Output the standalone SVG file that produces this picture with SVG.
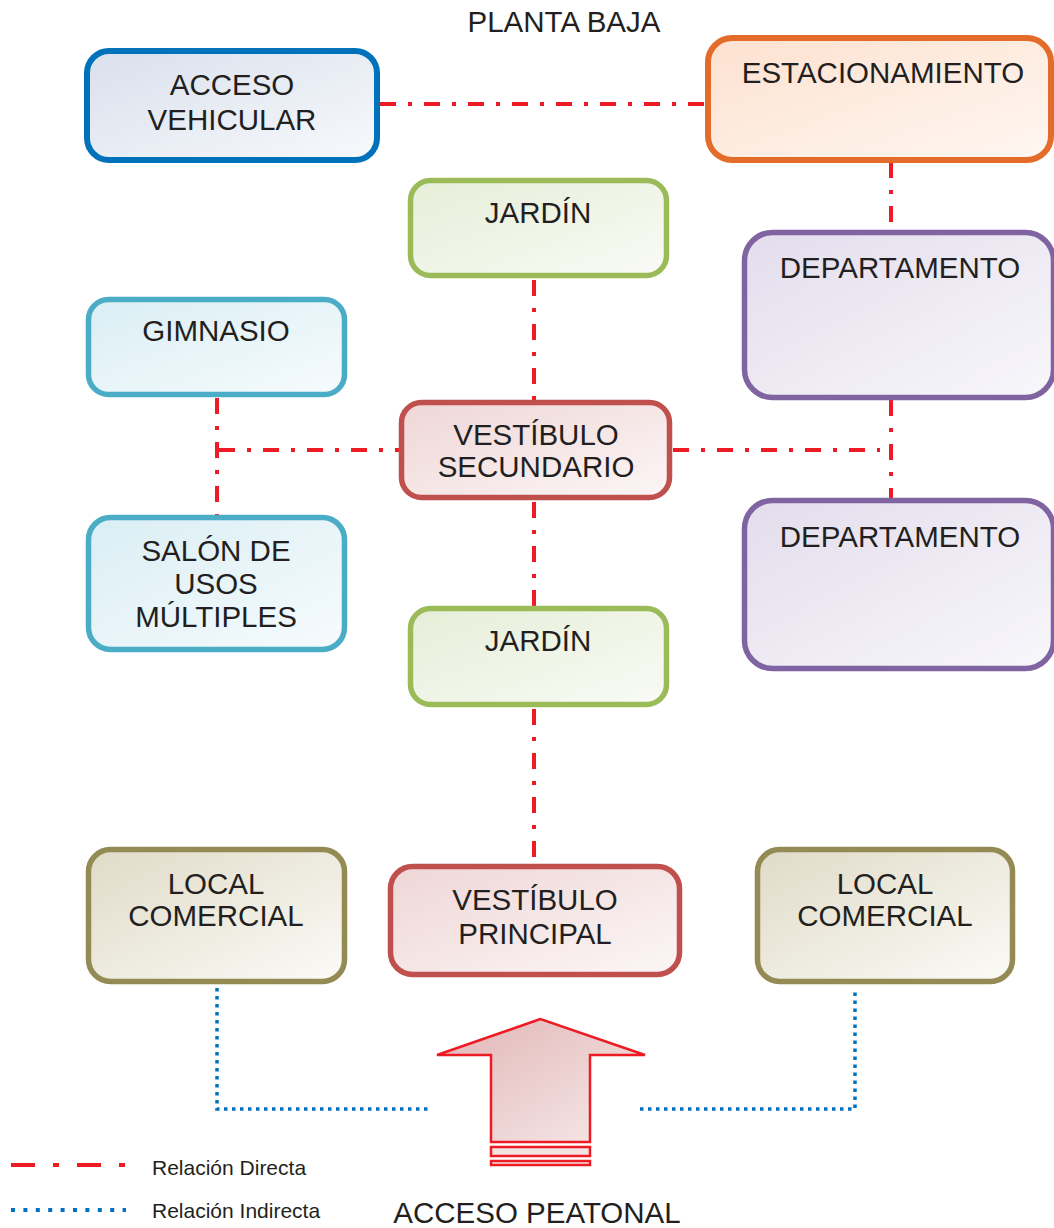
<svg xmlns="http://www.w3.org/2000/svg" width="1054" height="1228" viewBox="0 0 1054 1228">
<style>
.n{stroke-width:5.5}
.t{font-family:"Liberation Sans",Arial,sans-serif;font-size:29.5px;fill:#231F20;text-anchor:middle}
.d{stroke:#ED1C24;stroke-width:4;fill:none;stroke-dasharray:16 12 4 12}
.i{stroke:#0070C0;stroke-width:3.5;fill:none;stroke-dasharray:3.5 4.5}
.lg{font-family:"Liberation Sans",Arial,sans-serif;font-size:21px;fill:#231F20}
</style>
<defs>
<linearGradient id="gb" x1="0" y1="0" x2="1" y2="1"><stop offset="0" stop-color="#d9e0ec"/><stop offset="1" stop-color="#f7f9fc"/></linearGradient>
<linearGradient id="go" x1="0" y1="0" x2="1" y2="1"><stop offset="0" stop-color="#fde1cf"/><stop offset="1" stop-color="#fff7f2"/></linearGradient>
<linearGradient id="gg" x1="0" y1="0" x2="1" y2="1"><stop offset="0" stop-color="#e6eed8"/><stop offset="1" stop-color="#f9fbf5"/></linearGradient>
<linearGradient id="gp" x1="0" y1="0" x2="1" y2="1"><stop offset="0" stop-color="#e3ddec"/><stop offset="1" stop-color="#f8f7fb"/></linearGradient>
<linearGradient id="gt" x1="0" y1="0" x2="1" y2="1"><stop offset="0" stop-color="#daeef4"/><stop offset="1" stop-color="#f6fbfd"/></linearGradient>
<linearGradient id="gr" x1="0" y1="0" x2="1" y2="1"><stop offset="0" stop-color="#efd6d6"/><stop offset="1" stop-color="#fcf6f6"/></linearGradient>
<linearGradient id="gl" x1="0" y1="0" x2="1" y2="1"><stop offset="0" stop-color="#e0dbc8"/><stop offset="1" stop-color="#fbfaf6"/></linearGradient>
<linearGradient id="ga" x1="0" y1="0" x2="1" y2="1"><stop offset="0" stop-color="#e2b5b5"/><stop offset="1" stop-color="#f6eaea"/></linearGradient>
</defs>

<text class="t" x="564" y="32" style="font-size:29.5px">PLANTA BAJA</text>

<g id="connectors">
<line class="d" x1="380" y1="104" x2="706" y2="104"/>
<line class="d" x1="891" y1="162" x2="891" y2="230"/>
<line class="d" x1="534" y1="280" x2="534" y2="400"/>
<line class="d" x1="217" y1="398" x2="217" y2="515"/>
<line class="d" x1="219" y1="450" x2="399" y2="450"/>
<line class="d" x1="673" y1="450" x2="880" y2="450"/>
<line class="d" x1="891" y1="400" x2="891" y2="498"/>
<line class="d" x1="534" y1="502" x2="534" y2="606"/>
<line class="d" x1="534" y1="709" x2="534" y2="864"/>
<polyline class="i" points="217,988 217,1109 430,1109"/>
<polyline class="i" points="640,1109 855,1109 855,988"/>
</g>

<g id="acceso-vehicular"><rect class="n" x="87" y="51" width="290" height="109" rx="22" fill="url(#gb)" stroke="#0072BC" style="stroke-width:6"/>
<text class="t" x="232" y="95">ACCESO</text><text class="t" x="232" y="130">VEHICULAR</text></g>

<g id="estacionamiento"><rect class="n" x="708" y="38" width="343" height="122" rx="24" fill="url(#go)" stroke="#E46C2A" style="stroke-width:6"/>
<text class="t" x="883" y="83">ESTACIONAMIENTO</text></g>

<g id="jardin1"><rect class="n" x="410.5" y="180.5" width="256" height="95" rx="20" fill="url(#gg)" stroke="#9BBB59"/>
<text class="t" x="538" y="223">JARDÍN</text></g>

<g id="departamento1"><rect class="n" x="744.5" y="232.5" width="309" height="165" rx="28" fill="url(#gp)" stroke="#8064A2"/>
<text class="t" x="900" y="278">DEPARTAMENTO</text></g>

<g id="gimnasio"><rect class="n" x="88.5" y="299.5" width="256" height="95" rx="20" fill="url(#gt)" stroke="#4BACC6"/>
<text class="t" x="216" y="341">GIMNASIO</text></g>

<g id="vestibulo-secundario"><rect class="n" x="401.5" y="402.5" width="268" height="95" rx="20" fill="url(#gr)" stroke="#C0504D"/>
<text class="t" x="536" y="445">VESTÍBULO</text><text class="t" x="536" y="477">SECUNDARIO</text></g>

<g id="departamento2"><rect class="n" x="744.5" y="500.5" width="309" height="168" rx="28" fill="url(#gp)" stroke="#8064A2"/>
<text class="t" x="900" y="547">DEPARTAMENTO</text></g>

<g id="salon"><rect class="n" x="88.5" y="517.5" width="256" height="132" rx="22" fill="url(#gt)" stroke="#4BACC6"/>
<text class="t" x="216" y="561">SALÓN DE</text><text class="t" x="216" y="594">USOS</text><text class="t" x="216" y="627">MÚLTIPLES</text></g>

<g id="jardin2"><rect class="n" x="410.5" y="608.5" width="256" height="96" rx="20" fill="url(#gg)" stroke="#9BBB59"/>
<text class="t" x="538" y="651">JARDÍN</text></g>

<g id="local1"><rect class="n" x="88.5" y="849.5" width="256" height="132" rx="22" fill="url(#gl)" stroke="#948A54"/>
<text class="t" x="216" y="894">LOCAL</text><text class="t" x="216" y="926">COMERCIAL</text></g>

<g id="vestibulo-principal"><rect class="n" x="390.5" y="866.5" width="289" height="108" rx="22" fill="url(#gr)" stroke="#C0504D"/>
<text class="t" x="535" y="910">VESTÍBULO</text><text class="t" x="535" y="944">PRINCIPAL</text></g>

<g id="local2"><rect class="n" x="757.5" y="849.5" width="255" height="132" rx="22" fill="url(#gl)" stroke="#948A54"/>
<text class="t" x="885" y="894">LOCAL</text><text class="t" x="885" y="926">COMERCIAL</text></g>

<g id="acceso-peatonal">
<polygon points="540.5,1019 437,1055 491,1055 491,1142 590,1142 590,1055 645,1055" fill="url(#ga)" stroke="#ED1C24" stroke-width="2.5"/>
<rect x="491" y="1147" width="99" height="9" fill="#f4e3e3" stroke="#ED1C24" stroke-width="2.5"/>
<rect x="491" y="1161" width="99" height="4" fill="#f4e3e3" stroke="#ED1C24" stroke-width="2.5"/>
<text class="t" x="537" y="1223" style="font-size:29.5px">ACCESO PEATONAL</text>
</g>

<g id="legend">
<line x1="11" y1="1165" x2="126" y2="1165" stroke="#ED1C24" stroke-width="4" stroke-dasharray="24 18 6 18"/>
<text class="lg" x="152" y="1175">Relación Directa</text>
<line x1="11" y1="1210" x2="126" y2="1210" stroke="#0070C0" stroke-width="4" stroke-dasharray="4 8.4"/>
<text class="lg" x="152" y="1218">Relación Indirecta</text>
</g>
</svg>
